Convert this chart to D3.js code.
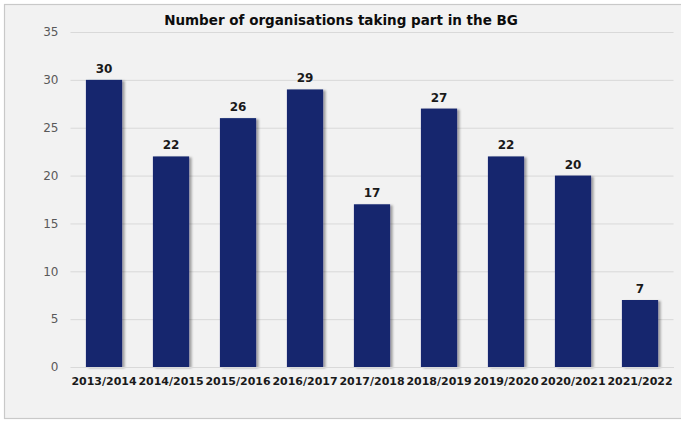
<!DOCTYPE html>
<html>
<head>
<meta charset="utf-8">
<script src="https://cdn.jsdelivr.net/npm/d3@7"></script>
<style>
  html, body { margin: 0; padding: 0; background: #ffffff; }
  svg { display: block; }
</style>
</head>
<body>
<script>
// Participation per season
const seasons = ["2013/2014", "2014/2015", "2015/2016", "2016/2017", "2017/2018",
                 "2018/2019", "2019/2020", "2020/2021", "2021/2022"];
const organisations = [30, 22, 26, 29, 17, 27, 22, 20, 7];
const yTicks = [0, 5, 10, 15, 20, 25, 30, 35];
const chartTitle = "Number of organisations taking part in the BG";

const W = 681, H = 421;
const margin = { left: 70.5, right: 7.5, top: 32, bottom: 54 };

const svg = d3.select("body").append("svg")
  .attr("width", W).attr("height", H);

// soft shadow to the right of each bar
const defs = svg.append("defs");
const f = defs.append("filter").attr("id", "barShadow")
  .attr("x", "-20%").attr("y", "-10%").attr("width", "150%").attr("height", "130%");
f.append("feDropShadow").attr("dx", 2.5).attr("dy", 1).attr("stdDeviation", 1.2)
  .attr("flood-color", "#000").attr("flood-opacity", 0.35);

// chart area panel
svg.append("rect")
  .attr("x", 4.5).attr("y", 4.5).attr("width", W + 10).attr("height", 414)
  .attr("fill", "#f2f2f2").attr("stroke", "#c9c9c9").attr("stroke-width", 1.2);

const x = d3.scaleBand().domain(seasons)
  .range([margin.left, W - margin.right]).paddingInner(0.46).paddingOuter(0.23);
const y = d3.scaleLinear().domain([0, 35])
  .range([H - margin.bottom, margin.top]);

// gridlines and y labels
const yAxis = d3.axisLeft(y).tickValues(yTicks)
  .tickSize(-(W - margin.right - margin.left)).tickPadding(12);
const gy = svg.append("g")
  .attr("transform", `translate(${margin.left},0)`)
  .call(yAxis);
gy.select(".domain").remove();
gy.selectAll(".tick line").attr("stroke", "#d9d9d9").attr("stroke-width", 1);
gy.selectAll(".tick text")
  .attr("fill", "#595959")
  .style("font-family", "'DejaVu Sans', sans-serif")
  .style("font-size", "12px");

// bars
svg.append("g").selectAll("rect")
  .data(organisations)
  .join("rect")
  .attr("x", (d, i) => x(seasons[i]))
  .attr("y", d => y(d))
  .attr("width", x.bandwidth())
  .attr("height", d => y(0) - y(d))
  .attr("fill", "#12266e")
  .attr("filter", "url(#barShadow)");

// value labels
svg.append("g").selectAll("text")
  .data(organisations)
  .join("text")
  .attr("x", (d, i) => x(seasons[i]) + x.bandwidth() / 2)
  .attr("y", d => y(d) - 7)
  .attr("text-anchor", "middle")
  .attr("fill", "#1a1a1a")
  .style("font-family", "'DejaVu Sans', sans-serif")
  .style("font-weight", "bold")
  .style("font-size", "12px")
  .text(d => d);

// x axis labels
const xAxis = d3.axisBottom(x).tickSize(0).tickPadding(10);
const gx = svg.append("g")
  .attr("transform", `translate(0,${y(0)})`)
  .call(xAxis);
gx.select(".domain").attr("stroke", "#d9d9d9");
gx.selectAll(".tick text")
  .attr("fill", "#1a1a1a")
  .style("font-family", "'DejaVu Sans', sans-serif")
  .style("font-weight", "bold")
  .style("font-size", "11px");

// title
svg.append("text")
  .attr("x", 341).attr("y", 25)
  .attr("text-anchor", "middle")
  .attr("fill", "#0d0d0d")
  .style("font-family", "'DejaVu Sans', sans-serif")
  .style("font-weight", "bold")
  .style("font-size", "13.5px")
  .text(chartTitle);
</script>
</body>
</html>
